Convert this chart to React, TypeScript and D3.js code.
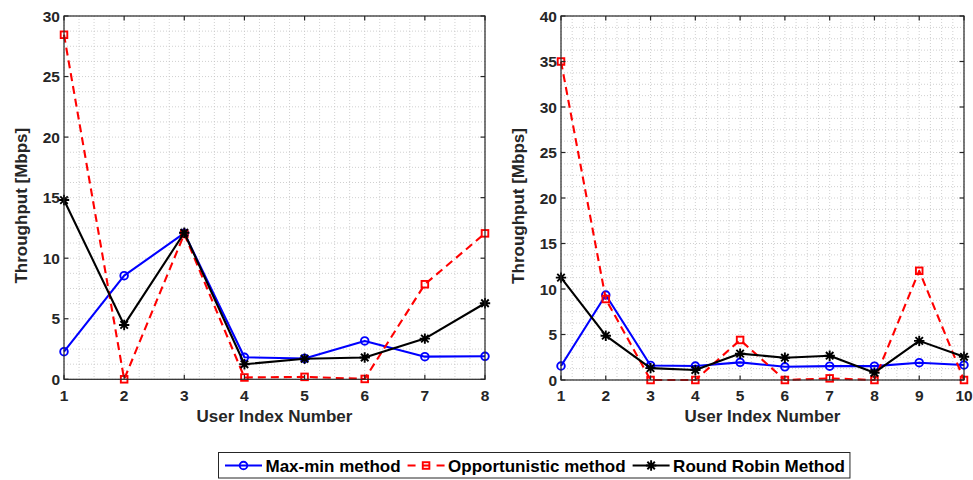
import React, { useEffect, useRef } from 'react';
import * as d3 from 'd3';

// left panel: 8 users
const users1 = [1, 2, 3, 4, 5, 6, 7, 8];
const maxMin1 = [2.28, 8.56, 12.07, 1.82, 1.72, 3.17, 1.87, 1.9];
const opp1 = [28.45, 0, 12.0, 0.15, 0.2, 0.03, 7.85, 12.05];
const rr1 = [14.8, 4.49, 12.1, 1.24, 1.7, 1.8, 3.36, 6.28];

// right panel: 10 users
const users2 = [1, 2, 3, 4, 5, 6, 7, 8, 9, 10];
const maxMin2 = [1.54, 9.34, 1.6, 1.54, 1.94, 1.45, 1.52, 1.52, 1.9, 1.65];
const opp2 = [35.0, 8.9, 0, 0, 4.4, 0, 0.18, 0, 12.0, 0];
const rr2 = [11.25, 4.87, 1.3, 1.1, 2.9, 2.45, 2.67, 0.8, 4.3, 2.55];

const yTicks1 = [0, 5, 10, 15, 20, 25, 30];
const yTicks2 = [0, 5, 10, 15, 20, 25, 30, 35, 40];

const seriesNames = ['Max-min method', 'Opportunistic method', 'Round Robin Method'];
const seriesColors = ['#0000ff', '#ff0000', '#000000'];
const seriesMarkers = ['circle', 'square', 'star'];

const FONT = '"Liberation Sans", Arial, Helvetica, sans-serif';
const AXIS = '#262626';

function drawMarker(g: any, type: string, x: number, y: number, color: string) {
	if (type === 'circle') {
		g.append('circle').attr('cx', x).attr('cy', y).attr('r', 3.8)
			.attr('fill', 'none').attr('stroke', color).attr('stroke-width', 1.9);
	} else if (type === 'square') {
		g.append('rect').attr('x', x - 3.3).attr('y', y - 3.3).attr('width', 6.6).attr('height', 6.6)
			.attr('fill', 'none').attr('stroke', color).attr('stroke-width', 1.9);
	} else {
		const r = 5.2;
		const d = r * 0.72;
		const p = `M${x - r},${y}L${x + r},${y}M${x},${y - r}L${x},${y + r}` +
			`M${x - d},${y - d}L${x + d},${y + d}M${x - d},${y + d}L${x + d},${y - d}`;
		g.append('path').attr('d', p).attr('stroke', color).attr('stroke-width', 1.9).attr('fill', 'none');
	}
}

function drawPanel(svg: any, box: any, users: number[], yMax: number, yTicks: number[], series: number[][]) {
	const x = d3.scaleLinear().domain([users[0], users[users.length - 1]]).range([box.x0, box.x1]);
	const y = d3.scaleLinear().domain([0, yMax]).range([box.y1, box.y0]);
	const g = svg.append('g');

	// grid: minor every quarter of the major step
	const grid = g.append('g').attr('stroke', '#c4c4c4').attr('stroke-width', 0.8).attr('stroke-dasharray', '1,2');
	const xs = d3.range(users[0], users[users.length - 1] + 0.001, 0.25);
	xs.forEach(v => {
		grid.append('line').attr('x1', x(v)).attr('x2', x(v)).attr('y1', box.y0).attr('y2', box.y1);
	});
	const ys = d3.range(0, yMax + 0.001, 1.25);
	ys.forEach(v => {
		grid.append('line').attr('x1', box.x0).attr('x2', box.x1).attr('y1', y(v)).attr('y2', y(v));
	});

	// series
	series.forEach((vals, i) => {
		const pts: [number, number][] = users.map((u, j) => [x(u), y(vals[j])]);
		const line = d3.line();
		const p = g.append('path').attr('d', line(pts)).attr('fill', 'none')
			.attr('stroke', seriesColors[i]).attr('stroke-width', 2.1).attr('stroke-linejoin', 'round');
		if (i === 1) p.attr('stroke-dasharray', '8,5');
		pts.forEach(pt => drawMarker(g, seriesMarkers[i], pt[0], pt[1], seriesColors[i]));
	});

	// box with inward ticks on all sides
	g.append('rect').attr('x', box.x0).attr('y', box.y0).attr('width', box.x1 - box.x0).attr('height', box.y1 - box.y0)
		.attr('fill', 'none').attr('stroke', AXIS).attr('stroke-width', 1.2);
	const tl = 4.5;
	users.forEach(u => {
		g.append('line').attr('x1', x(u)).attr('x2', x(u)).attr('y1', box.y1).attr('y2', box.y1 - tl).attr('stroke', AXIS).attr('stroke-width', 1.2);
		g.append('line').attr('x1', x(u)).attr('x2', x(u)).attr('y1', box.y0).attr('y2', box.y0 + tl).attr('stroke', AXIS).attr('stroke-width', 1.2);
		g.append('text').attr('x', x(u)).attr('y', 401).attr('text-anchor', 'middle')
			.attr('font-family', FONT).attr('font-weight', 'bold').attr('font-size', 15.5).attr('fill', AXIS).text(u);
	});
	yTicks.forEach(v => {
		g.append('line').attr('x1', box.x0).attr('x2', box.x0 + tl).attr('y1', y(v)).attr('y2', y(v)).attr('stroke', AXIS).attr('stroke-width', 1.2);
		g.append('line').attr('x1', box.x1).attr('x2', box.x1 - tl).attr('y1', y(v)).attr('y2', y(v)).attr('stroke', AXIS).attr('stroke-width', 1.2);
		g.append('text').attr('x', box.x0 - 4).attr('y', y(v) + 5.5).attr('text-anchor', 'end')
			.attr('font-family', FONT).attr('font-weight', 'bold').attr('font-size', 15.5).attr('fill', AXIS).text(v);
	});

	// axis labels
	g.append('text').attr('x', (box.x0 + box.x1) / 2).attr('y', 422).attr('text-anchor', 'middle')
		.attr('font-family', FONT).attr('font-weight', 'bold').attr('font-size', 17).attr('fill', AXIS).text('User Index Number');
	const cy = (box.y0 + box.y1) / 2 + 8;
	g.append('text').attr('transform', `translate(${box.ylab},${cy}) rotate(-90)`).attr('text-anchor', 'middle')
		.attr('font-family', FONT).attr('font-weight', 'bold').attr('font-size', 17).attr('fill', AXIS).text('Throughput [Mbps]');
}

export default function App() {
	const ref = useRef<SVGSVGElement>(null);

	useEffect(() => {
		const svg = d3.select(ref.current);
		svg.selectAll('*').remove();
		svg.append('rect').attr('width', 973).attr('height', 480).attr('fill', '#ffffff');

		drawPanel(svg, { x0: 64, x1: 485, y0: 16, y1: 379.3, ylab: 27 }, users1, 30, yTicks1, [maxMin1, opp1, rr1]);
		drawPanel(svg, { x0: 561, x1: 964, y0: 16, y1: 380, ylab: 524 }, users2, 40, yTicks2, [maxMin2, opp2, rr2]);

		// legend
		const lg = svg.append('g');
		const frame = lg.append('rect').attr('x', 218.5).attr('y', 452.5).attr('height', 25.5)
			.attr('fill', '#ffffff').attr('stroke', AXIS).attr('stroke-width', 1);
		let cx = 225;
		const ly = 465.5;
		seriesNames.forEach((name, i) => {
			const l = lg.append('line').attr('x1', cx).attr('x2', cx + 37).attr('y1', ly).attr('y2', ly)
				.attr('stroke', seriesColors[i]).attr('stroke-width', 2);
			if (i === 1) l.attr('stroke-dasharray', '8,6.5');
			drawMarker(lg, seriesMarkers[i], cx + 18.5, ly, seriesColors[i]);
			const t = lg.append('text').attr('x', cx + 40.5).attr('y', ly + 6)
				.attr('font-family', FONT).attr('font-weight', 'bold').attr('font-size', 17).attr('fill', '#000').text(name);
			const w = (t.node() as SVGTextElement).getComputedTextLength();
			cx = cx + 40.5 + w + 7;
		});
		frame.attr('width', cx - 218.5 - 2);
	}, []);

	return (
		<div style={{ position: 'absolute', left: 0, top: 0 }}>
			<svg ref={ref} width={973} height={480} style={{ display: 'block' }} />
		</div>
	);
}
